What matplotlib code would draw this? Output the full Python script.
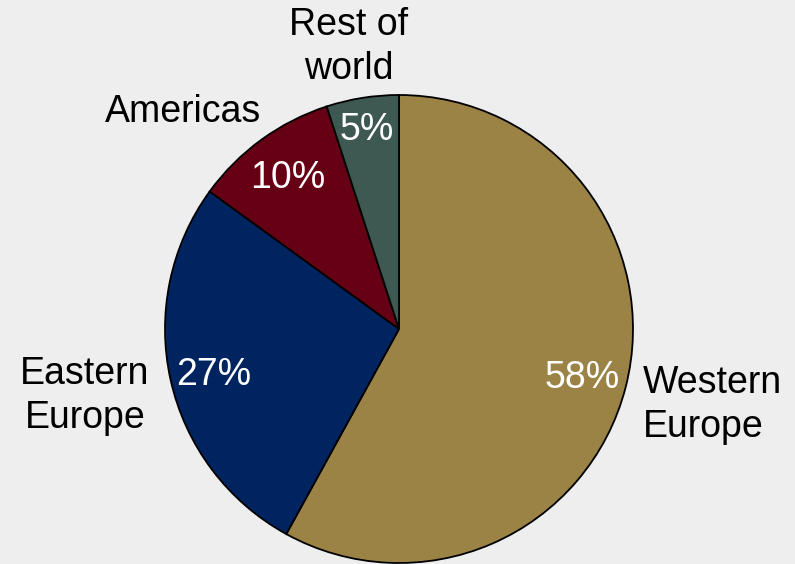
import matplotlib.pyplot as plt

# 数据
regions = ["Western\nEurope", "Eastern\nEurope", "Americas", "Rest of\nworld"]
shares = [58, 27, 10, 5]
colors = ["#9B8245", "#00245F", "#650015", "#3E5852"]

plt.rcParams["font.family"] = ["Liberation Sans", "DejaVu Sans"]

fig = plt.figure(figsize=(7.95, 5.64), dpi=100, facecolor="#EEEEEE")
# 饼图区域：圆心 (399, 329)，半径 234 像素
ax = fig.add_axes([(399 - 234) / 795, (564 - 329 - 234) / 564, 468 / 795, 468 / 564])
ax.set_facecolor("#EEEEEE")

wedges, _ = ax.pie(shares, colors=colors, startangle=90, counterclock=False,
                   wedgeprops=dict(edgecolor="black", linewidth=1.3))
ax.set_xlim(-1, 1)
ax.set_ylim(-1, 1)
ax.set_aspect("equal")
ax.axis("off")

# 百分比标签位置
pct_pos = [(0.782, -0.209), (-0.791, -0.197), (-0.474, 0.645), (-0.137, 0.850)]
for (x, y), v in zip(pct_pos, shares):
    ax.text(x, y, f"{v}%", color="white", fontsize=27, ha="center", va="center")

# 类别标签位置
lab_pos = [(1.043, -0.325, "left"), (-1.342, -0.286, "center"),
           (-0.923, 0.927, "center"), (-0.214, 1.205, "center")]
for (x, y, ha), lab in zip(lab_pos, regions):
    ax.text(x, y, lab, color="black", fontsize=27, ha=ha, va="center",
            multialignment="left" if ha == "left" else "center", linespacing=1.27)

fig.savefig("out.png", dpi=100, facecolor=fig.get_facecolor())
